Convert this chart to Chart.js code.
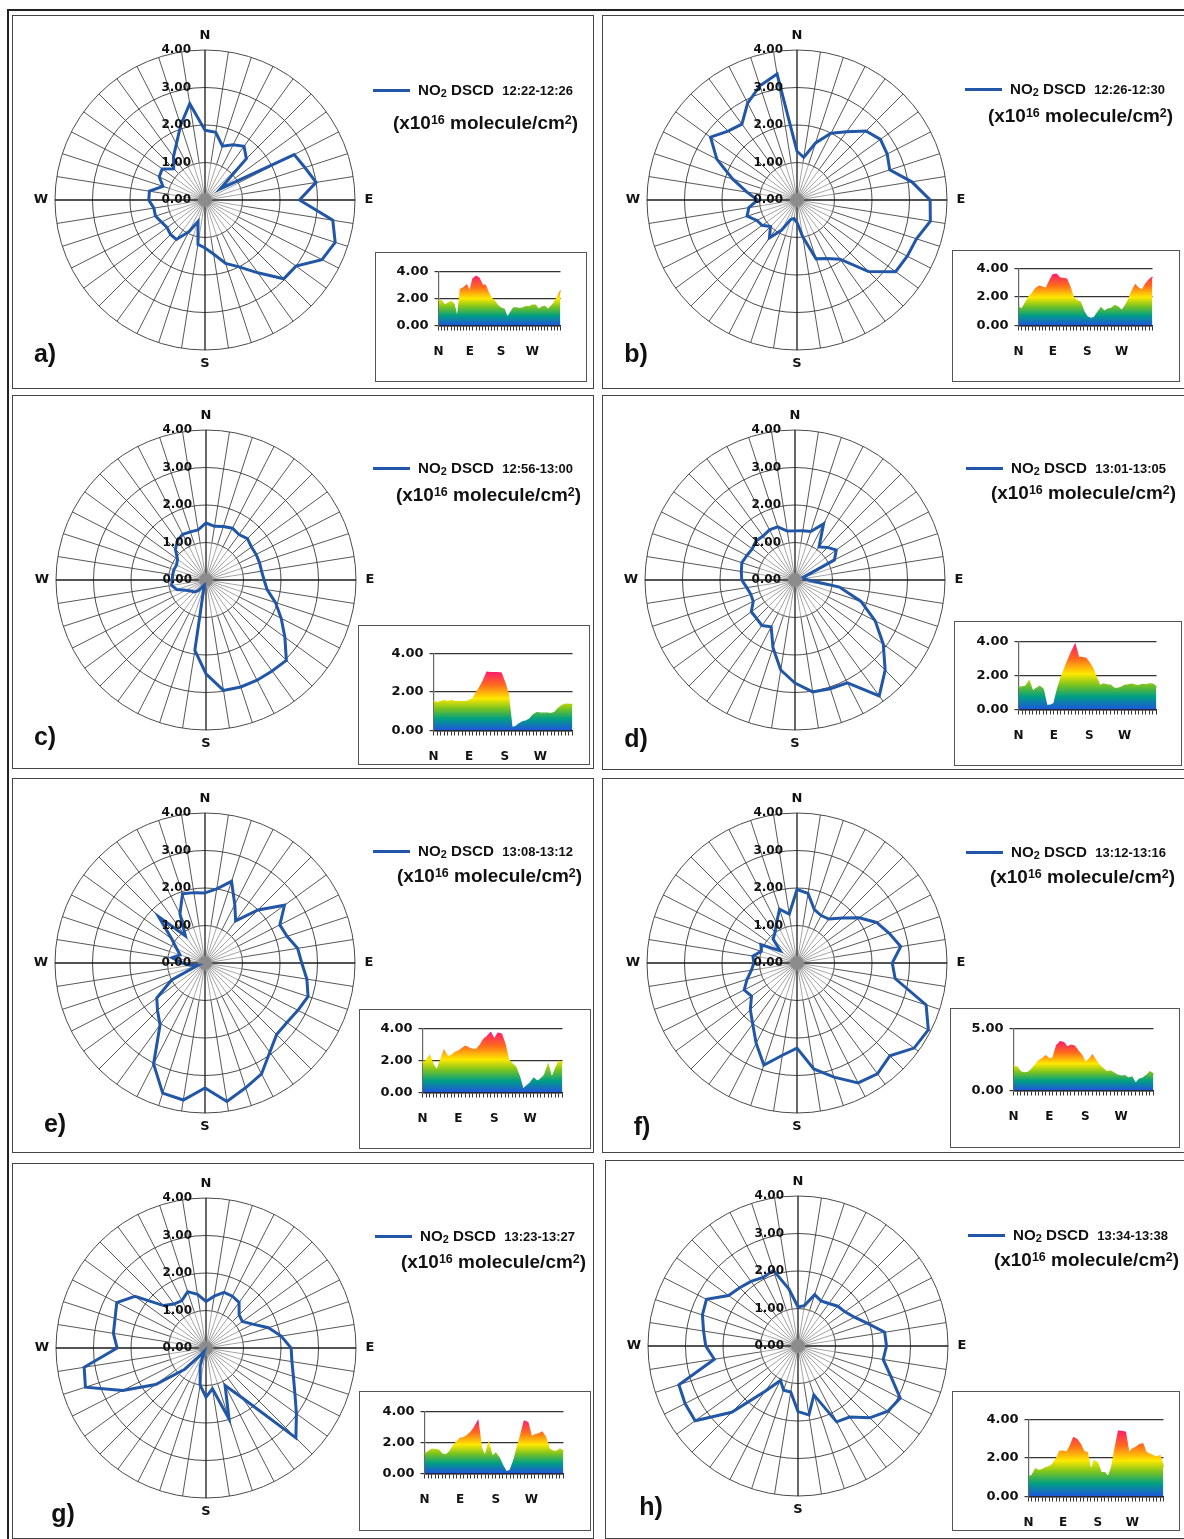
<!DOCTYPE html>
<html>
<head>
<meta charset="utf-8">
<script src="https://cdn.jsdelivr.net/npm/chart.js@4.4.1/dist/chart.umd.min.js"></script>
<style>
  body { margin: 0; background: #fff; width: 1184px; height: 1539px; position: relative; overflow: hidden;
         font-family: Arial, "Liberation Sans", sans-serif; }
  .frame { position: absolute; left: 7px; top: 9px; width: 1190px; height: 1540px;
           border-top: 2px solid #222; border-left: 2px solid #222; }
  .panel { position: absolute; border: 1.5px solid #444; box-sizing: border-box; }
  .inset { position: absolute; border: 1.5px solid #555; box-sizing: border-box; }
  canvas { position: absolute; }
  .leg { position: absolute; font-weight: bold; color: #111; white-space: nowrap; transform-origin: 0 50%; }
  .leg sub { font-size: 0.72em; vertical-align: -0.15em; }
  .leg sup { font-size: 0.66em; vertical-align: 0.45em; }
  .lab { position: absolute; font-weight: bold; font-size: 25px; color: #111; transform: translate(-50%, -50%); }
</style>
</head>
<body>
<div class="frame"></div>
<script>
// wind directions, clockwise from north (degrees)
const angles = [0, 9, 18, 27, 36, 45, 54, 63, 72, 81, 90, 99, 108, 117, 126, 135, 144, 153, 162, 171,
                180, 189, 198, 207, 216, 225, 234, 243, 252, 261, 270, 279, 288, 297, 306, 315, 324, 333, 342, 351];
const compassAt = { 0: 'N', 10: 'E', 20: 'S', 30: 'W' };
const radarTicks = [0, 1, 2, 3, 4];

// NO2 DSCD (x10^16 molecule/cm2) per direction
const no2A = [1.86, 1.83, 1.51, 1.65, 1.77, 1.56, 0.5, 2.67, 2.8, 3.0, 2.52, 3.45, 3.65, 3.5, 3.0, 2.97, 2.4, 2.0, 1.78, 1.46,
              1.28, 1.2, 0.6, 0.95, 1.3, 1.3, 1.25, 1.3, 1.39, 1.38, 1.5, 1.5, 1.18, 1.37, 1.41, 1.18, 1.43, 1.68, 2.1, 2.6];
const no2B = [1.3, 1.15, 1.6, 2.0, 2.25, 2.6, 2.75, 2.7, 2.6, 3.1, 3.55, 3.6, 3.35, 3.3, 3.25, 2.7, 1.95, 1.75, 1.65, 1.0,
              0.6, 0.5, 0.55, 0.9, 1.25, 1.0, 1.15, 1.2, 1.4, 1.3, 1.05, 1.35, 1.8, 2.4, 2.85, 2.6, 2.5, 2.9, 3.2, 3.4];
const no2C = [1.52, 1.45, 1.5, 1.55, 1.5, 1.56, 1.5, 1.5, 1.5, 1.5, 1.55, 1.65, 1.95, 2.25, 2.6, 3.03, 3.0, 3.0, 3.0, 2.98,
              2.5, 1.9, 0.15, 0.2, 0.35, 0.45, 0.5, 0.6, 0.82, 0.93, 0.9, 0.9, 0.9, 0.88, 0.94, 1.15, 1.3, 1.37, 1.35, 1.35];
const no2D = [1.31, 1.33, 1.36, 1.68, 1.09, 1.23, 1.36, 1.18, 0.23, 0.25, 0.35, 1.2, 1.85, 2.4, 2.91, 3.4, 3.82, 3.08, 3.05, 3.02,
              2.75, 2.43, 1.9, 1.4, 1.5, 1.45, 1.44, 1.25, 1.24, 1.3, 1.42, 1.45, 1.49, 1.44, 1.41, 1.47, 1.45, 1.5, 1.49, 1.32];
const no2E = [1.87, 2.0, 2.29, 1.75, 1.39, 2.0, 2.62, 2.24, 2.3, 2.5, 2.58, 2.75, 2.89, 2.78, 2.7, 2.7, 2.94, 3.32, 3.5, 3.74,
              3.33, 3.7, 3.65, 3.02, 2.04, 1.79, 1.59, 1.0, 0.2, 0.4, 0.6, 0.89, 0.7, 0.85, 1.1, 1.75, 0.89, 1.47, 1.94, 1.9];
const no2F = [1.96, 1.88, 1.5, 1.42, 1.45, 1.7, 2.05, 2.38, 2.58, 2.8, 2.54, 2.65, 3.62, 3.93, 3.86, 3.5, 3.65, 3.59, 3.2, 2.86,
              2.27, 2.49, 2.86, 2.4, 2.01, 1.76, 1.5, 1.58, 1.4, 1.23, 1.15, 1.19, 1.0, 1.08, 0.55, 0.9, 1.0, 1.2, 1.51, 1.32];
const no2G = [1.24, 1.4, 1.56, 1.55, 1.5, 1.25, 1.2, 1.4, 1.75, 2.03, 2.27, 2.32, 2.45, 2.66, 2.98, 3.39, 1.64, 1.12, 1.99, 1.1,
              1.31, 1.0, 0.5, 0.1, 0.2, 0.8, 1.66, 2.49, 3.38, 3.29, 2.37, 2.5, 2.55, 2.67, 2.34, 1.6, 1.45, 1.42, 1.58, 1.45];
const no2H = [1.04, 1.09, 1.44, 1.35, 1.4, 1.5, 1.55, 1.69, 1.95, 2.34, 2.36, 2.3, 2.6, 3.06, 2.96, 2.71, 2.34, 2.27, 1.37, 1.86,
              1.75, 1.24, 1.24, 1.03, 1.49, 2.5, 3.39, 3.38, 3.34, 2.26, 2.46, 2.55, 2.68, 2.74, 2.29, 2.2, 2.13, 2.05, 2.12, 1.54];

const times = ['12:22-12:26', '12:26-12:30', '12:56-13:00', '13:01-13:05',
               '13:08-13:12', '13:12-13:16', '13:23-13:27', '13:34-13:38'];
const panelNames = ['a)', 'b)', 'c)', 'd)', 'e)', 'f)', 'g)', 'h)'];
const series = [no2A, no2B, no2C, no2D, no2E, no2F, no2G, no2H];
const insetMax = [4, 4, 4, 4, 4, 5, 4, 4];
const insetStep = [2, 2, 2, 2, 2, 5, 2, 2];

// page layout (pixels)
const layout = [
  { box: [12, 15, 582, 374], center: [205, 200], legend: [373, 90], unit: [393, 120], label: [45, 353],
    inset: [375, 252, 212, 130], plot: [438, 271, 560, 325] },
  { box: [602, 15, 584, 374], center: [797, 200], legend: [965, 89], unit: [988, 113], label: [636, 353],
    inset: [952, 250, 228, 132], plot: [1018, 268, 1152, 325] },
  { box: [12, 395, 582, 374], center: [206, 580], legend: [373, 468], unit: [396, 492], label: [45, 736],
    inset: [358, 625, 232, 140], plot: [433, 653, 572, 730] },
  { box: [602, 395, 584, 375], center: [795, 580], legend: [966, 468], unit: [991, 490], label: [636, 738],
    inset: [954, 621, 228, 145], plot: [1018, 641, 1156, 709] },
  { box: [12, 778, 582, 375], center: [205, 963], legend: [373, 851], unit: [397, 873], label: [55, 1123],
    inset: [359, 1009, 232, 140], plot: [422, 1028, 562, 1092] },
  { box: [602, 778, 584, 375], center: [797, 963], legend: [966, 852], unit: [990, 874], label: [642, 1126],
    inset: [950, 1008, 230, 140], plot: [1013, 1028, 1153, 1090] },
  { box: [12, 1163, 582, 376], center: [206, 1348], legend: [375, 1236], unit: [401, 1259], label: [63, 1513],
    inset: [359, 1391, 232, 140], plot: [424, 1411, 563, 1473] },
  { box: [605, 1160, 581, 379], center: [798, 1346], legend: [968, 1235], unit: [994, 1257], label: [651, 1506],
    inset: [952, 1391, 228, 140], plot: [1028, 1419, 1163, 1496] }
];

const BLUE = '#2256a6';
const WIDE = '"DejaVu Sans", Verdana, sans-serif';

function el(tag, cls, css) {
  const e = document.createElement(tag);
  if (cls) e.className = cls;
  Object.assign(e.style, css || {});
  document.body.appendChild(e);
  return e;
}

function fitWidth(e, w) {
  const cur = e.getBoundingClientRect().width;
  if (cur > 0) e.style.transform = 'scaleX(' + (w / cur) + ')';
}

const radarDeco = {
  id: 'radarDeco',
  beforeDatasetsDraw(chart) {
    const s = chart.scales.r, c = chart.ctx;
    c.save();
    c.fillStyle = '#8c8c8c';
    c.beginPath();
    c.arc(s.xCenter, s.yCenter, 7, 0, Math.PI * 2);
    c.fill();
    c.restore();
  },
  afterDatasetsDraw(chart) {
    const s = chart.scales.r, c = chart.ctx;
    c.save();
    c.fillStyle = '#111';
    c.font = 'bold 12px ' + WIDE;
    c.textAlign = 'right';
    c.textBaseline = 'middle';
    radarTicks.forEach(v => {
      const d = s.getDistanceFromCenterForValue(v);
      c.fillText(v.toFixed(2), s.xCenter - 14, s.yCenter - d);
    });
    c.font = 'bold 13px ' + WIDE;
    c.textAlign = 'center';
    Object.keys(compassAt).forEach(i => {
      const p = s.getPointPosition(+i, s.drawingArea + 14);
      c.fillText(compassAt[i], p.x, p.y);
    });
    c.restore();
  }
};

function spokeColor(ctx) {
  if (ctx.index % 10 === 0) return '#1a1a1a';
  const s = ctx.chart.scales.r;
  if (!s || !s.drawingArea) return '#444';
  const g = ctx.chart.ctx.createRadialGradient(s.xCenter, s.yCenter, 0, s.xCenter, s.yCenter, s.drawingArea);
  g.addColorStop(0, '#8a8a8a');
  g.addColorStop(0.24, '#a0a0a0');
  g.addColorStop(0.26, '#444');
  g.addColorStop(1, '#444');
  return g;
}

function insetGradient(chart, maxVal) {
  const { chartArea, scales } = chart;
  if (!chartArea) return '#2a8';
  const top = scales.y.getPixelForValue(maxVal);
  const bottom = scales.y.getPixelForValue(0);
  const g = chart.ctx.createLinearGradient(0, top, 0, bottom);
  g.addColorStop(0, '#ff1f6a');
  g.addColorStop(0.22, '#ff6a1c');
  g.addColorStop(0.45, '#ffe800');
  g.addColorStop(0.62, '#7cc41e');
  g.addColorStop(0.8, '#00a082');
  g.addColorStop(1, '#1f55e0');
  return g;
}

layout.forEach((L, k) => {
  const vals = series[k];
  el('div', 'panel', { left: L.box[0] + 'px', top: L.box[1] + 'px', width: L.box[2] + 'px', height: L.box[3] + 'px' });

  // radar
  const R = 360;
  const cv = el('canvas', null, { left: (L.center[0] - R / 2) + 'px', top: (L.center[1] - R / 2) + 'px' });
  cv.width = R; cv.height = R;
  new Chart(cv, {
    type: 'radar',
    data: {
      labels: angles,
      datasets: [{ data: vals, borderColor: BLUE, borderWidth: 3, pointRadius: 0, fill: false, tension: 0 }]
    },
    options: {
      responsive: false, animation: false,
      layout: { padding: 30 },
      plugins: { legend: { display: false }, tooltip: { enabled: false } },
      scales: {
        r: {
          min: 0, max: 4,
          ticks: { stepSize: 1, display: false },
          pointLabels: { display: false },
          grid: { circular: true, color: '#4a4a4a', lineWidth: 1 },
          angleLines: { color: spokeColor, lineWidth: ctx => ctx.index % 10 === 0 ? 1.3 : 0.9 }
        }
      }
    },
    plugins: [radarDeco]
  });

  // legend
  el('div', null, { position: 'absolute', left: L.legend[0] + 'px', top: (L.legend[1] - 1.5) + 'px',
                    width: '37px', height: '3px', background: BLUE });
  const t1 = el('div', 'leg', { left: (L.legend[0] + 45) + 'px', top: (L.legend[1] - 9) + 'px', fontSize: '14px', lineHeight: '18px' });
  t1.innerHTML = 'NO<sub>2</sub> DSCD&nbsp; <span style="font-size:12px">' + times[k] + '</span>';
  fitWidth(t1, 155);
  const t2 = el('div', 'leg', { left: L.unit[0] + 'px', top: (L.unit[1] - 12) + 'px', fontSize: '18px', lineHeight: '24px' });
  t2.innerHTML = '(x10<sup>16</sup> molecule/cm<sup>2</sup>)';
  fitWidth(t2, 185);

  const lb = el('div', 'lab', { left: L.label[0] + 'px', top: L.label[1] + 'px' });
  lb.textContent = panelNames[k];

  // inset profile
  const ib = L.inset;
  el('div', 'inset', { left: ib[0] + 'px', top: ib[1] + 'px', width: ib[2] + 'px', height: ib[3] + 'px' });
  const cx = ib[0] + 1.5, cy = ib[1] + 1.5, cw = ib[2] - 3, ch = ib[3] - 3;
  const ic = el('canvas', null, { left: cx + 'px', top: cy + 'px' });
  ic.width = cw; ic.height = ch;
  const yW = 44, xH = 34;
  const P = L.plot;
  const maxVal = Math.max(...vals);
  new Chart(ic, {
    type: 'line',
    data: {
      labels: angles,
      datasets: [{
        data: vals, fill: 'origin', pointRadius: 0, borderWidth: 1.3, tension: 0,
        backgroundColor: c => insetGradient(c.chart, maxVal),
        borderColor: c => insetGradient(c.chart, maxVal)
      }]
    },
    options: {
      responsive: false, animation: false,
      plugins: { legend: { display: false }, tooltip: { enabled: false } },
      layout: { padding: { left: P[0] - cx - yW, top: P[1] - cy, right: cx + cw - P[2], bottom: cy + ch - P[3] - xH } },
      scales: {
        x: {
          grid: { display: true, drawOnChartArea: false, drawTicks: true, tickLength: 5, color: '#333', lineWidth: 1 },
          border: { color: '#222', width: 1.5 },
          ticks: { autoSkip: false, maxRotation: 0, padding: 14, color: '#111',
                   font: { family: WIDE, weight: 'bold', size: 12 },
                   callback: (v, i) => compassAt[i] || '' },
          afterFit: s => { s.height = xH; }
        },
        y: {
          min: 0, max: insetMax[k],
          grid: { color: '#333', lineWidth: 1.2, tickLength: 4 },
          border: { color: '#666', width: 1.2 },
          ticks: { stepSize: insetStep[k], padding: 6, color: '#111',
                   font: { family: WIDE, weight: 'bold', size: 13 },
                   callback: v => v.toFixed(2) },
          afterFit: s => { s.width = yW; }
        }
      }
    }
  });
});
</script>
</body>
</html>
